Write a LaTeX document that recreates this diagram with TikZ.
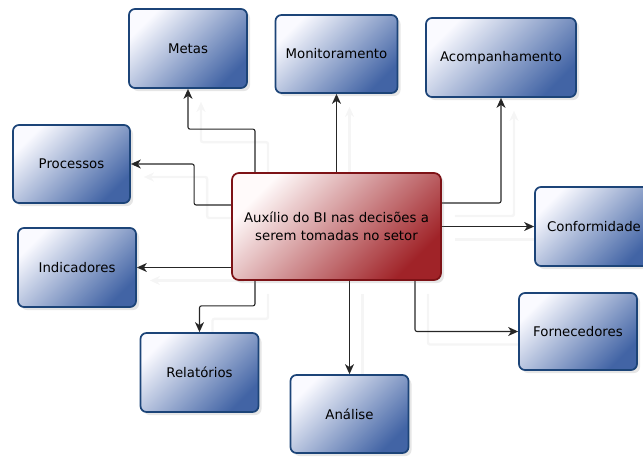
\documentclass[tikz,border=0pt]{standalone}
\usepackage{fontspec}
\setmainfont{DejaVu Sans}
\usetikzlibrary{arrows.meta, shadows, backgrounds}

\definecolor{edgeblue}{RGB}{28,68,120}
\definecolor{midblue}{RGB}{196,206,229}
\definecolor{fillblue}{RGB}{66,100,165}
\definecolor{edgered}{RGB}{125,18,22}
\definecolor{midred}{RGB}{226,170,172}
\definecolor{fillred}{RGB}{160,35,40}

\begin{document}
\begin{tikzpicture}[x=1pt, y=-1pt,
    font=\fontsize{13.3}{18}\selectfont,
    topic/.style={draw=edgeblue, line width=1.7pt, rounded corners=6pt,
                  top color=blue!2!white, middle color=midblue, bottom color=fillblue,
                  shading angle=45,
                  minimum width=118pt, minimum height=79pt, align=center,
                  drop shadow={shadow xshift=3pt, shadow yshift=-3pt, opacity=0.2}},
    core/.style={draw=edgered, line width=1.7pt, rounded corners=7pt,
                 top color=red!2!white, middle color=midred, bottom color=fillred,
                 shading angle=45,
                 minimum width=209pt, minimum height=107pt, align=center,
                 drop shadow={shadow xshift=3pt, shadow yshift=-3pt, opacity=0.2}},
    ar/.style={-{Stealth[length=10pt,width=9pt,inset=3pt]}, line width=1.1pt,
               draw=black!85, rounded corners=2pt,
               preaction={draw=black!4, line width=2.4pt,
                          transform canvas={shift={(13pt,-13pt)}}}}
  ]
    \useasboundingbox (0,0) rectangle (643,456);

    \node[core] (bi) at (336.5,226.5) {Auxílio do BI nas decisões a\\serem tomadas no setor};

    \node[topic] (metas) at (188,48.5) {Metas};
    \node[topic, minimum width=122pt, minimum height=78pt] (monit) at (336.5,54) {Monitoramento};
    \node[topic, minimum width=150pt] (acomp) at (501,57.5) {Acompanhamento};
    \node[topic, minimum width=117pt, minimum height=78pt] (proc) at (71.5,164) {Processos};
    \node[topic] (indic) at (77,267.5) {Indicadores};
    \node[topic] (relat) at (199.5,372.5) {Relatórios};
    \node[topic, minimum height=78pt] (anal) at (349.5,414) {Análise};
    \node[topic] (conf) at (594,226.5) {Conformidade};
    \node[topic, minimum height=77pt] (forn) at (578,331.5) {Fornecedores};

    % saidas do no central, atras das caixas
    \begin{scope}[on background layer]
      \draw[ar] ([xshift=-81.5pt]bi.north) -- ++(0,-43) -| (metas);
      \draw[ar] (bi.north) -- (monit);
      \draw[ar] ([yshift=23.5pt]bi.east) -| (acomp);
      \draw[ar] ([yshift=21.5pt]bi.west) -- ++(-37,0) |- (proc);
      \draw[ar] (bi.west |- indic) -- (indic);
      \draw[ar] (bi.east) -- (conf);
      \draw[ar] ([xshift=-81.5pt]bi.south) -- ++(0,25) -| (relat);
      \draw[ar] (bi.south -| anal) -- (anal);
      \draw[ar] ([xshift=78.5pt]bi.south) |- (forn);
    \end{scope}
  \end{tikzpicture}
\end{document}
